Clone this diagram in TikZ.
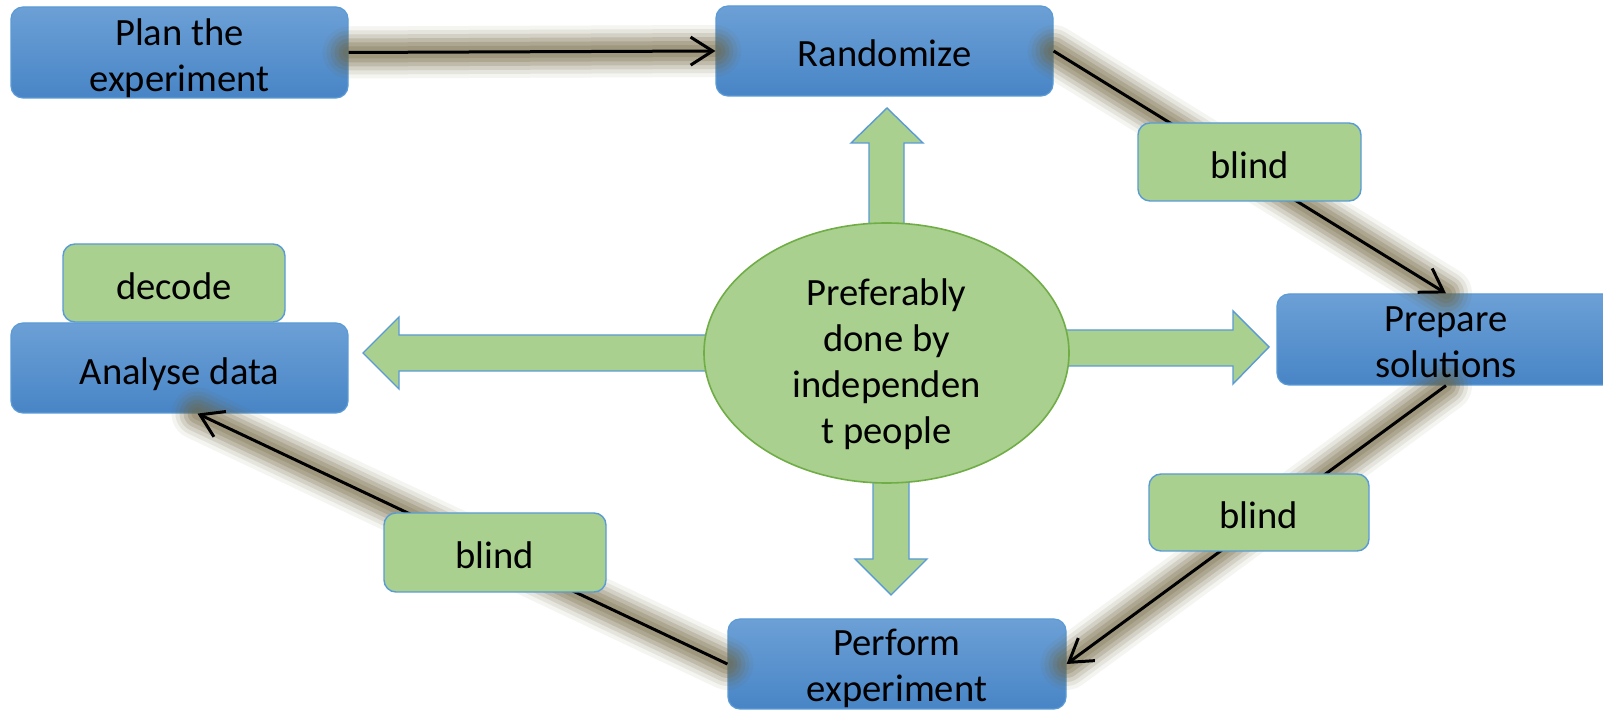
\documentclass[tikz,border=0pt]{standalone}
\usepackage{fontspec}
\setmainfont{Carlito}
\usetikzlibrary{arrows.meta,shapes.geometric,calc}
\definecolor{bluetop}{RGB}{108,160,214}
\definecolor{bluebot}{RGB}{72,133,198}
\definecolor{blueedge}{RGB}{91,155,213}
\definecolor{greenfill}{RGB}{169,208,142}
\definecolor{greenedge}{RGB}{112,173,71}
\definecolor{glowc}{RGB}{112,100,60}
\begin{document}
\begin{tikzpicture}[x=0.5pt,y=-0.5pt,
  txt/.style={font=\fontsize{19.3}{23}\selectfont, align=center, text=black, inner sep=0pt},
  bluebox/.style={rectangle, rounded corners=6pt, draw=blueedge, line width=0.6pt,
    top color=bluetop, bottom color=bluebot, inner sep=0pt},
  greenbox/.style={rectangle, rounded corners=6pt, draw=blueedge, line width=0.7pt,
    fill=greenfill, inner sep=0pt},
  blockarrow/.style={fill=greenfill, draw=blueedge, line width=0.7pt, line join=miter},
  conn/.style={draw=black, line width=1.5pt,
    -{Straight Barb[length=11pt,width=14pt,line width=1.5pt]},
    preaction={draw=glowc, -, line width=26pt, opacity=.07, line cap=round},
    preaction={draw=glowc, -, line width=22pt, opacity=.11, line cap=round},
    preaction={draw=glowc, -, line width=18pt, opacity=.15, line cap=round},
    preaction={draw=glowc, -, line width=14pt, opacity=.2, line cap=round},
    preaction={draw=glowc, -, line width=10pt, opacity=.22, line cap=round},
    preaction={draw=glowc, -, line width=6pt, opacity=.22, line cap=round}}
]
\useasboundingbox (0,0) rectangle (1603,710);
\fill[white] (0,0) rectangle (1603,710);

% block arrows from the ellipse
\draw[blockarrow] (869,240) -- (869,143) -- (851,143) -- (887,108) -- (923,143) -- (904,143) -- (904,240) -- cycle;
\draw[blockarrow] (720,335) -- (399,335) -- (399,317) -- (363,353) -- (399,389) -- (399,371) -- (720,371) -- cycle;
\draw[blockarrow] (1050,330) -- (1233,330) -- (1233,311) -- (1269,347) -- (1233,384) -- (1233,366) -- (1050,366) -- cycle;
\draw[blockarrow] (873,470) -- (873,559) -- (855,559) -- (891,595) -- (927,559) -- (909,559) -- (909,470) -- cycle;

\node[ellipse, fill=greenfill, draw=greenedge, line width=0.8pt, minimum width=182.5pt, minimum height=130pt,
  inner sep=0pt] (center) at (886.5,353) {};
\node[txt] (center-t) at ([yshift=-5.5pt]center.center) {Preferably\\done by\\independen\\t people};

% process boxes
\node[bluebox, minimum width=168.5pt, minimum height=45.5pt] (plan) at (179.5,52.5) {};
\node[bluebox, minimum width=168.5pt, minimum height=45pt] (rand) at (884.5,51) {};
\node[bluebox, minimum width=169pt, minimum height=45.5pt] (prep) at (1446,339.5) {};
\node[bluebox, minimum width=169pt, minimum height=45pt] (perf) at (897,664) {};
\node[bluebox, minimum width=168.5pt, minimum height=45pt] (ana) at (179.5,368) {};

% connectors
\draw[conn] (plan.east) -- (rand.west);
\draw[conn] (rand.east) -- (prep.north);
\draw[conn] (prep.south) -- (perf.east);
\draw[conn] (perf.west) -- ([xshift=9pt]ana.south);

% box texts
\node[txt] (plan-t) at ([yshift=-3pt]plan.center) {Plan the\\experiment};
\node[txt] (rand-t) at ([yshift=-1pt]rand.center) {Randomize};
\node[txt] (prep-t) at ([yshift=-1.5pt]prep.center) {Prepare\\solutions};
\node[txt] (perf-t) at ([yshift=-2pt]perf.center) {Perform\\experiment};
\node[txt] (ana-t) at ([yshift=-3pt]ana.center) {Analyse data};

% labels
\node[greenbox, minimum width=111pt, minimum height=39pt] (decode) at (174,283) {};
\node[greenbox, minimum width=111.5pt, minimum height=39pt] (b1) at (1249.5,162) {};
\node[greenbox, minimum width=110pt, minimum height=38.5pt] (b2) at (1259,512.5) {};
\node[greenbox, minimum width=111pt, minimum height=39.5pt] (b3) at (495,552.5) {};
\node[txt] (decode-t) at ([yshift=-1.5pt]decode.center) {decode};
\node[txt] (b1-t) at ([yshift=-1.5pt]b1.center) {blind};
\node[txt] (b2-t) at ([yshift=-1.5pt]b2.center) {blind};
\node[txt] (b3-t) at ([yshift=-1.5pt]b3.center) {blind};
\end{tikzpicture}
\end{document}
